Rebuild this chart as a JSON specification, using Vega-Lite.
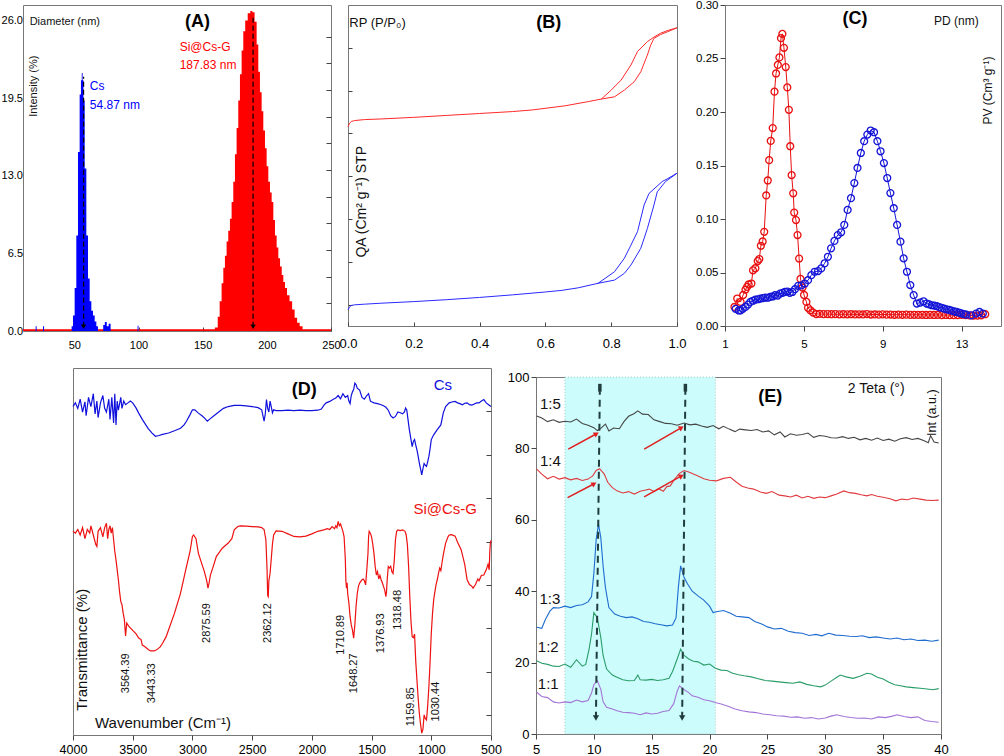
{
"$schema": "https://vega.github.io/schema/vega-lite/v6.json",
"padding": {"top": -2, "left": 0, "right": 0, "bottom": 0},
"background": "white",
"config": {
  "font": "Liberation Sans",
  "view": {"stroke": "#777777", "strokeWidth": 1},
  "axis": {"domain": false, "grid": false, "labelColor": "#000000", "tickColor": "#444444", "labelFont": "Liberation Sans", "labelFontSize": 12, "minExtent": 0, "labelFlush": false, "labelOverlap": false}
},
"datasets": {
"histA": [
{"d":10,"i":0.15,"s":"Si@Cs-G"},{"d":158,"i":0.15,"s":"Si@Cs-G"},{"d":161,"i":0.3,"s":"Si@Cs-G"},{"d":162.5,"i":1.2,"s":"Si@Cs-G"},{"d":164,"i":2.5,"s":"Si@Cs-G"},{"d":165.5,"i":4.0,"s":"Si@Cs-G"},{"d":166.7,"i":5.3,"s":"Si@Cs-G"},{"d":168,"i":6.3,"s":"Si@Cs-G"},{"d":169.3,"i":7.5,"s":"Si@Cs-G"},{"d":170.6,"i":8.4,"s":"Si@Cs-G"},{"d":171.9,"i":9.4,"s":"Si@Cs-G"},{"d":173.2,"i":10.8,"s":"Si@Cs-G"},{"d":174.5,"i":12.5,"s":"Si@Cs-G"},{"d":175.8,"i":14.8,"s":"Si@Cs-G"},{"d":177.1,"i":17.0,"s":"Si@Cs-G"},{"d":178.4,"i":19.3,"s":"Si@Cs-G"},{"d":179.7,"i":21.5,"s":"Si@Cs-G"},{"d":181,"i":23.5,"s":"Si@Cs-G"},{"d":182.3,"i":25.1,"s":"Si@Cs-G"},{"d":184,"i":26.0,"s":"Si@Cs-G"},{"d":186.2,"i":26.6,"s":"Si@Cs-G"},{"d":188,"i":26.8,"s":"Si@Cs-G"},{"d":189.5,"i":26.7,"s":"Si@Cs-G"},{"d":191.4,"i":25.9,"s":"Si@Cs-G"},{"d":192.7,"i":24.0,"s":"Si@Cs-G"},{"d":194,"i":21.7,"s":"Si@Cs-G"},{"d":195.3,"i":20.0,"s":"Si@Cs-G"},{"d":196.6,"i":18.4,"s":"Si@Cs-G"},{"d":197.9,"i":16.8,"s":"Si@Cs-G"},{"d":199.2,"i":15.3,"s":"Si@Cs-G"},{"d":200.5,"i":13.8,"s":"Si@Cs-G"},{"d":201.8,"i":12.5,"s":"Si@Cs-G"},{"d":203.1,"i":11.6,"s":"Si@Cs-G"},{"d":204.4,"i":10.8,"s":"Si@Cs-G"},{"d":205.7,"i":9.3,"s":"Si@Cs-G"},{"d":207,"i":8.0,"s":"Si@Cs-G"},{"d":208.3,"i":7.0,"s":"Si@Cs-G"},{"d":209.6,"i":6.1,"s":"Si@Cs-G"},{"d":211,"i":5.4,"s":"Si@Cs-G"},{"d":212.2,"i":4.7,"s":"Si@Cs-G"},{"d":213.5,"i":4.1,"s":"Si@Cs-G"},{"d":214.8,"i":3.6,"s":"Si@Cs-G"},{"d":216.7,"i":3.0,"s":"Si@Cs-G"},{"d":218.7,"i":2.5,"s":"Si@Cs-G"},{"d":220.7,"i":1.8,"s":"Si@Cs-G"},{"d":222.6,"i":1.1,"s":"Si@Cs-G"},{"d":224.6,"i":0.7,"s":"Si@Cs-G"},{"d":226.6,"i":0.4,"s":"Si@Cs-G"},{"d":229,"i":0.15,"s":"Si@Cs-G"},{"d":250,"i":0.15,"s":"Si@Cs-G"},
{"d":10,"i":0,"s":"Cs"},{"d":19.5,"i":0,"s":"Cs"},{"d":20.2,"i":0.4,"s":"Cs"},{"d":21,"i":0,"s":"Cs"},{"d":25.2,"i":0,"s":"Cs"},{"d":26,"i":0.4,"s":"Cs"},{"d":26.8,"i":0,"s":"Cs"},{"d":47.5,"i":0,"s":"Cs"},{"d":48.3,"i":0.4,"s":"Cs"},{"d":49.6,"i":1.3,"s":"Cs"},{"d":50.9,"i":3.6,"s":"Cs"},{"d":52.2,"i":8.0,"s":"Cs"},{"d":53.5,"i":15.0,"s":"Cs"},{"d":54.8,"i":19.8,"s":"Cs"},{"d":55.5,"i":21.0,"s":"Cs"},{"d":56.1,"i":21.6,"s":"Cs"},{"d":56.8,"i":21.0,"s":"Cs"},{"d":57.4,"i":19.3,"s":"Cs"},{"d":58.7,"i":13.6,"s":"Cs"},{"d":60,"i":8.0,"s":"Cs"},{"d":61.3,"i":4.4,"s":"Cs"},{"d":62.6,"i":2.5,"s":"Cs"},{"d":63.9,"i":1.7,"s":"Cs"},{"d":65.2,"i":1.3,"s":"Cs"},{"d":66.5,"i":0.8,"s":"Cs"},{"d":67.8,"i":0.4,"s":"Cs"},{"d":69,"i":0,"s":"Cs"},{"d":72,"i":0,"s":"Cs"},{"d":73,"i":0.5,"s":"Cs"},{"d":74.5,"i":0.75,"s":"Cs"},{"d":76,"i":0.4,"s":"Cs"},{"d":77.5,"i":0.6,"s":"Cs"},{"d":79,"i":0,"s":"Cs"},{"d":99,"i":0,"s":"Cs"},{"d":99.6,"i":0.45,"s":"Cs"},{"d":100.4,"i":0,"s":"Cs"},{"d":101,"i":0,"s":"Cs"}
],
"dashA": [{"x":57.2,"y1":0.35,"y2":21.3},{"x":189.3,"y1":0.35,"y2":26.3}],
"isoB": [
{"p":0,"q":62.1,"s":"Si@Cs-G","b":"a"},{"p":0.005,"q":63.2,"s":"Si@Cs-G","b":"a"},{"p":0.01,"q":63.7,"s":"Si@Cs-G","b":"a"},{"p":0.02,"q":64.0,"s":"Si@Cs-G","b":"a"},{"p":0.05,"q":64.3,"s":"Si@Cs-G","b":"a"},{"p":0.1,"q":64.5,"s":"Si@Cs-G","b":"a"},{"p":0.2,"q":65.0,"s":"Si@Cs-G","b":"a"},{"p":0.3,"q":65.6,"s":"Si@Cs-G","b":"a"},{"p":0.4,"q":66.2,"s":"Si@Cs-G","b":"a"},{"p":0.5,"q":66.8,"s":"Si@Cs-G","b":"a"},{"p":0.56,"q":67.3,"s":"Si@Cs-G","b":"a"},{"p":0.66,"q":68.6,"s":"Si@Cs-G","b":"a"},{"p":0.73,"q":69.9,"s":"Si@Cs-G","b":"a"},{"p":0.77,"q":70.7,"s":"Si@Cs-G","b":"a"},{"p":0.81,"q":71.4,"s":"Si@Cs-G","b":"a"},{"p":0.84,"q":73.5,"s":"Si@Cs-G","b":"a"},{"p":0.87,"q":76.1,"s":"Si@Cs-G","b":"a"},{"p":0.89,"q":79.2,"s":"Si@Cs-G","b":"a"},{"p":0.91,"q":84.4,"s":"Si@Cs-G","b":"a"},{"p":0.92,"q":87.5,"s":"Si@Cs-G","b":"a"},{"p":0.93,"q":89.6,"s":"Si@Cs-G","b":"a"},{"p":0.95,"q":90.8,"s":"Si@Cs-G","b":"a"},{"p":0.97,"q":91.6,"s":"Si@Cs-G","b":"a"},{"p":1.0,"q":92.9,"s":"Si@Cs-G","b":"a"},
{"p":0.77,"q":70.7,"s":"Si@Cs-G","b":"d"},{"p":0.8,"q":73.5,"s":"Si@Cs-G","b":"d"},{"p":0.83,"q":76.6,"s":"Si@Cs-G","b":"d"},{"p":0.86,"q":81.3,"s":"Si@Cs-G","b":"d"},{"p":0.88,"q":85.5,"s":"Si@Cs-G","b":"d"},{"p":0.91,"q":88.6,"s":"Si@Cs-G","b":"d"},{"p":0.93,"q":90.0,"s":"Si@Cs-G","b":"d"},{"p":0.95,"q":91.2,"s":"Si@Cs-G","b":"d"},{"p":0.97,"q":92.0,"s":"Si@Cs-G","b":"d"},{"p":1.0,"q":92.9,"s":"Si@Cs-G","b":"d"},
{"p":0,"q":5.0,"s":"Cs","b":"a"},{"p":0.005,"q":6.0,"s":"Cs","b":"a"},{"p":0.01,"q":6.4,"s":"Cs","b":"a"},{"p":0.02,"q":6.6,"s":"Cs","b":"a"},{"p":0.05,"q":6.8,"s":"Cs","b":"a"},{"p":0.1,"q":7.1,"s":"Cs","b":"a"},{"p":0.2,"q":7.6,"s":"Cs","b":"a"},{"p":0.3,"q":8.2,"s":"Cs","b":"a"},{"p":0.4,"q":8.9,"s":"Cs","b":"a"},{"p":0.5,"q":9.7,"s":"Cs","b":"a"},{"p":0.6,"q":10.6,"s":"Cs","b":"a"},{"p":0.65,"q":11.1,"s":"Cs","b":"a"},{"p":0.7,"q":11.9,"s":"Cs","b":"a"},{"p":0.76,"q":13.3,"s":"Cs","b":"a"},{"p":0.81,"q":14.3,"s":"Cs","b":"a"},{"p":0.84,"q":16.4,"s":"Cs","b":"a"},{"p":0.86,"q":19.0,"s":"Cs","b":"a"},{"p":0.89,"q":24.2,"s":"Cs","b":"a"},{"p":0.91,"q":30.4,"s":"Cs","b":"a"},{"p":0.93,"q":37.7,"s":"Cs","b":"a"},{"p":0.94,"q":41.8,"s":"Cs","b":"a"},{"p":0.965,"q":45.0,"s":"Cs","b":"a"},{"p":1.0,"q":47.6,"s":"Cs","b":"a"},
{"p":0.76,"q":13.3,"s":"Cs","b":"d"},{"p":0.81,"q":16.9,"s":"Cs","b":"d"},{"p":0.84,"q":21.1,"s":"Cs","b":"d"},{"p":0.86,"q":25.2,"s":"Cs","b":"d"},{"p":0.88,"q":29.4,"s":"Cs","b":"d"},{"p":0.9,"q":37.7,"s":"Cs","b":"d"},{"p":0.915,"q":41.3,"s":"Cs","b":"d"},{"p":0.955,"q":45.0,"s":"Cs","b":"d"},{"p":0.97,"q":45.8,"s":"Cs","b":"d"},{"p":1.0,"q":47.6,"s":"Cs","b":"d"}
],
"poreC": [
{"d":1.48,"v":0.0178,"s":"Si@Cs-G"},{"d":1.62,"v":0.0257,"s":"Si@Cs-G"},{"d":1.79,"v":0.0225,"s":"Si@Cs-G"},{"d":1.92,"v":0.029,"s":"Si@Cs-G"},{"d":2.04,"v":0.034,"s":"Si@Cs-G"},{"d":2.12,"v":0.0366,"s":"Si@Cs-G"},{"d":2.2,"v":0.0388,"s":"Si@Cs-G"},{"d":2.34,"v":0.0397,"s":"Si@Cs-G"},{"d":2.42,"v":0.052,"s":"Si@Cs-G"},{"d":2.54,"v":0.054,"s":"Si@Cs-G"},{"d":2.66,"v":0.0607,"s":"Si@Cs-G"},{"d":2.74,"v":0.0626,"s":"Si@Cs-G"},{"d":2.82,"v":0.075,"s":"Si@Cs-G"},{"d":2.91,"v":0.079,"s":"Si@Cs-G"},{"d":2.99,"v":0.088,"s":"Si@Cs-G"},{"d":3.09,"v":0.122,"s":"Si@Cs-G"},{"d":3.17,"v":0.136,"s":"Si@Cs-G"},{"d":3.24,"v":0.155,"s":"Si@Cs-G"},{"d":3.32,"v":0.173,"s":"Si@Cs-G"},{"d":3.42,"v":0.185,"s":"Si@Cs-G"},{"d":3.51,"v":0.219,"s":"Si@Cs-G"},{"d":3.59,"v":0.236,"s":"Si@Cs-G"},{"d":3.68,"v":0.244,"s":"Si@Cs-G"},{"d":3.76,"v":0.251,"s":"Si@Cs-G"},{"d":3.84,"v":0.269,"s":"Si@Cs-G"},{"d":3.91,"v":0.273,"s":"Si@Cs-G"},{"d":3.99,"v":0.26,"s":"Si@Cs-G"},{"d":4.08,"v":0.242,"s":"Si@Cs-G"},{"d":4.16,"v":0.223,"s":"Si@Cs-G"},{"d":4.24,"v":0.202,"s":"Si@Cs-G"},{"d":4.31,"v":0.168,"s":"Si@Cs-G"},{"d":4.38,"v":0.141,"s":"Si@Cs-G"},{"d":4.46,"v":0.124,"s":"Si@Cs-G"},{"d":4.51,"v":0.106,"s":"Si@Cs-G"},{"d":4.6,"v":0.099,"s":"Si@Cs-G"},{"d":4.68,"v":0.085,"s":"Si@Cs-G"},{"d":4.76,"v":0.063,"s":"Si@Cs-G"},{"d":4.83,"v":0.044,"s":"Si@Cs-G"},{"d":4.93,"v":0.036,"s":"Si@Cs-G"},{"d":5.01,"v":0.029,"s":"Si@Cs-G"},{"d":5.13,"v":0.0225,"s":"Si@Cs-G"},{"d":5.21,"v":0.017,"s":"Si@Cs-G"},{"d":5.33,"v":0.0147,"s":"Si@Cs-G"},{"d":5.47,"v":0.0125,"s":"Si@Cs-G"},{"d":5.63,"v":0.0112,"s":"Si@Cs-G"},{"d":5.8,"v":0.0113,"s":"Si@Cs-G"},{"d":6.0,"v":0.0111,"s":"Si@Cs-G"},{"d":6.2,"v":0.0112,"s":"Si@Cs-G"},{"d":6.4,"v":0.011,"s":"Si@Cs-G"},{"d":6.6,"v":0.0111,"s":"Si@Cs-G"},{"d":6.8,"v":0.0109,"s":"Si@Cs-G"},{"d":7.0,"v":0.011,"s":"Si@Cs-G"},{"d":7.2,"v":0.0109,"s":"Si@Cs-G"},{"d":7.4,"v":0.011,"s":"Si@Cs-G"},{"d":7.6,"v":0.0108,"s":"Si@Cs-G"},{"d":7.8,"v":0.0109,"s":"Si@Cs-G"},{"d":8.0,"v":0.0108,"s":"Si@Cs-G"},{"d":8.2,"v":0.0112,"s":"Si@Cs-G"},{"d":8.4,"v":0.0107,"s":"Si@Cs-G"},{"d":8.6,"v":0.0108,"s":"Si@Cs-G"},{"d":8.8,"v":0.0106,"s":"Si@Cs-G"},{"d":9.0,"v":0.0109,"s":"Si@Cs-G"},{"d":9.2,"v":0.0106,"s":"Si@Cs-G"},{"d":9.4,"v":0.0107,"s":"Si@Cs-G"},{"d":9.6,"v":0.0105,"s":"Si@Cs-G"},{"d":9.8,"v":0.0106,"s":"Si@Cs-G"},{"d":10.0,"v":0.0105,"s":"Si@Cs-G"},{"d":10.2,"v":0.0106,"s":"Si@Cs-G"},{"d":10.4,"v":0.0104,"s":"Si@Cs-G"},{"d":10.6,"v":0.0105,"s":"Si@Cs-G"},{"d":10.8,"v":0.0104,"s":"Si@Cs-G"},{"d":11.0,"v":0.0105,"s":"Si@Cs-G"},{"d":11.2,"v":0.0103,"s":"Si@Cs-G"},{"d":11.4,"v":0.0104,"s":"Si@Cs-G"},{"d":11.6,"v":0.0103,"s":"Si@Cs-G"},{"d":11.8,"v":0.0104,"s":"Si@Cs-G"},{"d":12.0,"v":0.0102,"s":"Si@Cs-G"},{"d":12.2,"v":0.0103,"s":"Si@Cs-G"},{"d":12.4,"v":0.0102,"s":"Si@Cs-G"},{"d":12.6,"v":0.0101,"s":"Si@Cs-G"},{"d":12.8,"v":0.0102,"s":"Si@Cs-G"},{"d":13.0,"v":0.0105,"s":"Si@Cs-G"},{"d":13.2,"v":0.0101,"s":"Si@Cs-G"},{"d":13.4,"v":0.01,"s":"Si@Cs-G"},{"d":13.6,"v":0.0098,"s":"Si@Cs-G"},{"d":13.8,"v":0.0097,"s":"Si@Cs-G"},{"d":14.0,"v":0.01,"s":"Si@Cs-G"},{"d":14.2,"v":0.011,"s":"Si@Cs-G"},
{"d":1.54,"v":0.016,"s":"Cs"},{"d":1.7,"v":0.0145,"s":"Cs"},{"d":1.79,"v":0.0147,"s":"Cs"},{"d":1.9,"v":0.016,"s":"Cs"},{"d":2.04,"v":0.0178,"s":"Cs"},{"d":2.17,"v":0.02,"s":"Cs"},{"d":2.29,"v":0.0225,"s":"Cs"},{"d":2.42,"v":0.0236,"s":"Cs"},{"d":2.54,"v":0.0247,"s":"Cs"},{"d":2.67,"v":0.025,"s":"Cs"},{"d":2.79,"v":0.0256,"s":"Cs"},{"d":2.92,"v":0.026,"s":"Cs"},{"d":3.04,"v":0.0266,"s":"Cs"},{"d":3.17,"v":0.0264,"s":"Cs"},{"d":3.29,"v":0.0272,"s":"Cs"},{"d":3.42,"v":0.0276,"s":"Cs"},{"d":3.54,"v":0.0288,"s":"Cs"},{"d":3.67,"v":0.0284,"s":"Cs"},{"d":3.79,"v":0.0303,"s":"Cs"},{"d":3.92,"v":0.031,"s":"Cs"},{"d":4.04,"v":0.0319,"s":"Cs"},{"d":4.17,"v":0.0322,"s":"Cs"},{"d":4.29,"v":0.031,"s":"Cs"},{"d":4.42,"v":0.0318,"s":"Cs"},{"d":4.55,"v":0.0344,"s":"Cs"},{"d":4.71,"v":0.0375,"s":"Cs"},{"d":4.88,"v":0.038,"s":"Cs"},{"d":5.05,"v":0.0397,"s":"Cs"},{"d":5.21,"v":0.0428,"s":"Cs"},{"d":5.38,"v":0.0475,"s":"Cs"},{"d":5.55,"v":0.0507,"s":"Cs"},{"d":5.72,"v":0.0513,"s":"Cs"},{"d":5.88,"v":0.0538,"s":"Cs"},{"d":6.05,"v":0.0585,"s":"Cs"},{"d":6.22,"v":0.0647,"s":"Cs"},{"d":6.38,"v":0.0726,"s":"Cs"},{"d":6.55,"v":0.0795,"s":"Cs"},{"d":6.72,"v":0.085,"s":"Cs"},{"d":6.89,"v":0.0876,"s":"Cs"},{"d":7.05,"v":0.0945,"s":"Cs"},{"d":7.22,"v":0.1085,"s":"Cs"},{"d":7.39,"v":0.1195,"s":"Cs"},{"d":7.56,"v":0.1336,"s":"Cs"},{"d":7.72,"v":0.1477,"s":"Cs"},{"d":7.89,"v":0.1617,"s":"Cs"},{"d":8.06,"v":0.1727,"s":"Cs"},{"d":8.22,"v":0.1789,"s":"Cs"},{"d":8.39,"v":0.1827,"s":"Cs"},{"d":8.56,"v":0.1811,"s":"Cs"},{"d":8.73,"v":0.1727,"s":"Cs"},{"d":8.89,"v":0.1633,"s":"Cs"},{"d":9.06,"v":0.1523,"s":"Cs"},{"d":9.23,"v":0.1383,"s":"Cs"},{"d":9.39,"v":0.1242,"s":"Cs"},{"d":9.56,"v":0.1101,"s":"Cs"},{"d":9.73,"v":0.0945,"s":"Cs"},{"d":9.9,"v":0.0788,"s":"Cs"},{"d":10.06,"v":0.0632,"s":"Cs"},{"d":10.23,"v":0.0507,"s":"Cs"},{"d":10.4,"v":0.0382,"s":"Cs"},{"d":10.57,"v":0.0288,"s":"Cs"},{"d":10.73,"v":0.021,"s":"Cs"},{"d":10.9,"v":0.0219,"s":"Cs"},{"d":11.07,"v":0.0231,"s":"Cs"},{"d":11.23,"v":0.021,"s":"Cs"},{"d":11.36,"v":0.0202,"s":"Cs"},{"d":11.49,"v":0.0194,"s":"Cs"},{"d":11.62,"v":0.019,"s":"Cs"},{"d":11.74,"v":0.0185,"s":"Cs"},{"d":11.87,"v":0.0176,"s":"Cs"},{"d":11.99,"v":0.0169,"s":"Cs"},{"d":12.12,"v":0.0162,"s":"Cs"},{"d":12.24,"v":0.0156,"s":"Cs"},{"d":12.37,"v":0.015,"s":"Cs"},{"d":12.49,"v":0.0144,"s":"Cs"},{"d":12.62,"v":0.0137,"s":"Cs"},{"d":12.74,"v":0.0131,"s":"Cs"},{"d":12.87,"v":0.0125,"s":"Cs"},{"d":12.99,"v":0.0119,"s":"Cs"},{"d":13.12,"v":0.0112,"s":"Cs"},{"d":13.24,"v":0.0106,"s":"Cs"},{"d":13.49,"v":0.01,"s":"Cs"},{"d":13.74,"v":0.0116,"s":"Cs"},{"d":13.91,"v":0.0131,"s":"Cs"},{"d":14.08,"v":0.0116,"s":"Cs"}
],
"ftirD": [
{"w":4000,"t":89.5,"s":"Cs"},{"w":3980,"t":90.5,"s":"Cs"},{"w":3960,"t":89.0,"s":"Cs"},{"w":3940,"t":91.5,"s":"Cs"},{"w":3920,"t":88.0,"s":"Cs"},{"w":3900,"t":90.8,"s":"Cs"},{"w":3890,"t":87.0,"s":"Cs"},{"w":3870,"t":92.0,"s":"Cs"},{"w":3850,"t":89.5,"s":"Cs"},{"w":3830,"t":93.0,"s":"Cs"},{"w":3815,"t":87.5,"s":"Cs"},{"w":3800,"t":91.0,"s":"Cs"},{"w":3790,"t":86.5,"s":"Cs"},{"w":3770,"t":90.5,"s":"Cs"},{"w":3750,"t":92.5,"s":"Cs"},{"w":3735,"t":89.0,"s":"Cs"},{"w":3720,"t":88.0,"s":"Cs"},{"w":3700,"t":91.5,"s":"Cs"},{"w":3690,"t":86.0,"s":"Cs"},{"w":3675,"t":92.0,"s":"Cs"},{"w":3660,"t":85.0,"s":"Cs"},{"w":3650,"t":93.0,"s":"Cs"},{"w":3640,"t":84.5,"s":"Cs"},{"w":3630,"t":91.0,"s":"Cs"},{"w":3620,"t":88.5,"s":"Cs"},{"w":3600,"t":92.0,"s":"Cs"},{"w":3590,"t":89.0,"s":"Cs"},{"w":3575,"t":91.0,"s":"Cs"},{"w":3560,"t":90.0,"s":"Cs"},{"w":3540,"t":90.5,"s":"Cs"},{"w":3520,"t":91.0,"s":"Cs"},{"w":3500,"t":90.5,"s":"Cs"},{"w":3470,"t":89.0,"s":"Cs"},{"w":3450,"t":87.7,"s":"Cs"},{"w":3420,"t":86.0,"s":"Cs"},{"w":3400,"t":85.0,"s":"Cs"},{"w":3370,"t":83.5,"s":"Cs"},{"w":3340,"t":82.3,"s":"Cs"},{"w":3310,"t":81.4,"s":"Cs"},{"w":3280,"t":81.6,"s":"Cs"},{"w":3250,"t":81.9,"s":"Cs"},{"w":3200,"t":82.3,"s":"Cs"},{"w":3150,"t":82.9,"s":"Cs"},{"w":3100,"t":83.6,"s":"Cs"},{"w":3070,"t":84.5,"s":"Cs"},{"w":3050,"t":85.5,"s":"Cs"},{"w":3020,"t":87.3,"s":"Cs"},{"w":3000,"t":88.6,"s":"Cs"},{"w":2980,"t":88.6,"s":"Cs"},{"w":2950,"t":87.7,"s":"Cs"},{"w":2920,"t":87.0,"s":"Cs"},{"w":2900,"t":86.4,"s":"Cs"},{"w":2875,"t":85.5,"s":"Cs"},{"w":2850,"t":86.2,"s":"Cs"},{"w":2820,"t":87.0,"s":"Cs"},{"w":2780,"t":88.0,"s":"Cs"},{"w":2740,"t":89.0,"s":"Cs"},{"w":2700,"t":89.5,"s":"Cs"},{"w":2650,"t":89.8,"s":"Cs"},{"w":2600,"t":89.8,"s":"Cs"},{"w":2550,"t":89.7,"s":"Cs"},{"w":2500,"t":89.5,"s":"Cs"},{"w":2450,"t":89.2,"s":"Cs"},{"w":2420,"t":88.6,"s":"Cs"},{"w":2400,"t":85.5,"s":"Cs"},{"w":2390,"t":87.5,"s":"Cs"},{"w":2380,"t":91.4,"s":"Cs"},{"w":2370,"t":89.0,"s":"Cs"},{"w":2360,"t":88.0,"s":"Cs"},{"w":2350,"t":91.0,"s":"Cs"},{"w":2340,"t":89.5,"s":"Cs"},{"w":2330,"t":87.8,"s":"Cs"},{"w":2320,"t":88.6,"s":"Cs"},{"w":2300,"t":88.4,"s":"Cs"},{"w":2250,"t":88.4,"s":"Cs"},{"w":2200,"t":88.5,"s":"Cs"},{"w":2150,"t":88.4,"s":"Cs"},{"w":2100,"t":88.5,"s":"Cs"},{"w":2050,"t":88.4,"s":"Cs"},{"w":2000,"t":88.4,"s":"Cs"},{"w":1950,"t":88.5,"s":"Cs"},{"w":1920,"t":88.8,"s":"Cs"},{"w":1900,"t":89.8,"s":"Cs"},{"w":1880,"t":90.5,"s":"Cs"},{"w":1850,"t":90.9,"s":"Cs"},{"w":1820,"t":91.5,"s":"Cs"},{"w":1800,"t":91.8,"s":"Cs"},{"w":1780,"t":92.5,"s":"Cs"},{"w":1760,"t":91.6,"s":"Cs"},{"w":1740,"t":93.0,"s":"Cs"},{"w":1720,"t":92.0,"s":"Cs"},{"w":1700,"t":92.5,"s":"Cs"},{"w":1690,"t":91.0,"s":"Cs"},{"w":1680,"t":90.3,"s":"Cs"},{"w":1670,"t":92.5,"s":"Cs"},{"w":1660,"t":93.5,"s":"Cs"},{"w":1650,"t":94.1,"s":"Cs"},{"w":1640,"t":95.9,"s":"Cs"},{"w":1630,"t":95.5,"s":"Cs"},{"w":1620,"t":94.5,"s":"Cs"},{"w":1600,"t":94.0,"s":"Cs"},{"w":1580,"t":92.0,"s":"Cs"},{"w":1560,"t":91.5,"s":"Cs"},{"w":1540,"t":92.5,"s":"Cs"},{"w":1525,"t":93.0,"s":"Cs"},{"w":1510,"t":91.0,"s":"Cs"},{"w":1500,"t":90.8,"s":"Cs"},{"w":1480,"t":90.5,"s":"Cs"},{"w":1450,"t":90.3,"s":"Cs"},{"w":1420,"t":90.0,"s":"Cs"},{"w":1400,"t":89.7,"s":"Cs"},{"w":1380,"t":89.3,"s":"Cs"},{"w":1360,"t":88.5,"s":"Cs"},{"w":1340,"t":87.0,"s":"Cs"},{"w":1320,"t":86.4,"s":"Cs"},{"w":1300,"t":86.8,"s":"Cs"},{"w":1280,"t":88.0,"s":"Cs"},{"w":1260,"t":87.8,"s":"Cs"},{"w":1240,"t":87.5,"s":"Cs"},{"w":1225,"t":88.0,"s":"Cs"},{"w":1215,"t":89.1,"s":"Cs"},{"w":1205,"t":88.5,"s":"Cs"},{"w":1195,"t":86.0,"s":"Cs"},{"w":1185,"t":83.5,"s":"Cs"},{"w":1170,"t":80.5,"s":"Cs"},{"w":1160,"t":78.6,"s":"Cs"},{"w":1150,"t":80.0,"s":"Cs"},{"w":1140,"t":80.5,"s":"Cs"},{"w":1130,"t":79.0,"s":"Cs"},{"w":1120,"t":77.7,"s":"Cs"},{"w":1110,"t":76.0,"s":"Cs"},{"w":1100,"t":74.1,"s":"Cs"},{"w":1090,"t":72.5,"s":"Cs"},{"w":1080,"t":70.9,"s":"Cs"},{"w":1070,"t":72.5,"s":"Cs"},{"w":1060,"t":74.0,"s":"Cs"},{"w":1050,"t":73.5,"s":"Cs"},{"w":1040,"t":73.2,"s":"Cs"},{"w":1030,"t":74.5,"s":"Cs"},{"w":1020,"t":75.9,"s":"Cs"},{"w":1010,"t":78.0,"s":"Cs"},{"w":1000,"t":80.5,"s":"Cs"},{"w":980,"t":81.8,"s":"Cs"},{"w":950,"t":83.2,"s":"Cs"},{"w":920,"t":84.5,"s":"Cs"},{"w":900,"t":87.7,"s":"Cs"},{"w":880,"t":89.5,"s":"Cs"},{"w":850,"t":90.5,"s":"Cs"},{"w":820,"t":90.8,"s":"Cs"},{"w":800,"t":90.9,"s":"Cs"},{"w":780,"t":90.5,"s":"Cs"},{"w":760,"t":90.3,"s":"Cs"},{"w":740,"t":90.0,"s":"Cs"},{"w":720,"t":90.4,"s":"Cs"},{"w":700,"t":90.5,"s":"Cs"},{"w":680,"t":90.0,"s":"Cs"},{"w":660,"t":89.9,"s":"Cs"},{"w":640,"t":90.2,"s":"Cs"},{"w":620,"t":90.5,"s":"Cs"},{"w":600,"t":90.5,"s":"Cs"},{"w":580,"t":91.0,"s":"Cs"},{"w":560,"t":91.4,"s":"Cs"},{"w":540,"t":90.5,"s":"Cs"},{"w":520,"t":90.0,"s":"Cs"},{"w":500,"t":89.5,"s":"Cs"},
{"w":4000,"t":55.5,"s":"Si@Cs-G"},{"w":3980,"t":55.0,"s":"Si@Cs-G"},{"w":3960,"t":56.0,"s":"Si@Cs-G"},{"w":3940,"t":54.5,"s":"Si@Cs-G"},{"w":3920,"t":56.5,"s":"Si@Cs-G"},{"w":3900,"t":53.5,"s":"Si@Cs-G"},{"w":3880,"t":56.0,"s":"Si@Cs-G"},{"w":3860,"t":55.0,"s":"Si@Cs-G"},{"w":3850,"t":57.0,"s":"Si@Cs-G"},{"w":3830,"t":54.5,"s":"Si@Cs-G"},{"w":3810,"t":52.0,"s":"Si@Cs-G"},{"w":3800,"t":51.4,"s":"Si@Cs-G"},{"w":3790,"t":55.5,"s":"Si@Cs-G"},{"w":3770,"t":56.5,"s":"Si@Cs-G"},{"w":3750,"t":54.0,"s":"Si@Cs-G"},{"w":3735,"t":56.5,"s":"Si@Cs-G"},{"w":3720,"t":57.7,"s":"Si@Cs-G"},{"w":3710,"t":53.5,"s":"Si@Cs-G"},{"w":3700,"t":56.0,"s":"Si@Cs-G"},{"w":3690,"t":57.0,"s":"Si@Cs-G"},{"w":3680,"t":55.0,"s":"Si@Cs-G"},{"w":3670,"t":56.5,"s":"Si@Cs-G"},{"w":3660,"t":53.2,"s":"Si@Cs-G"},{"w":3650,"t":50.0,"s":"Si@Cs-G"},{"w":3640,"t":47.7,"s":"Si@Cs-G"},{"w":3630,"t":45.0,"s":"Si@Cs-G"},{"w":3620,"t":42.3,"s":"Si@Cs-G"},{"w":3610,"t":39.0,"s":"Si@Cs-G"},{"w":3600,"t":36.4,"s":"Si@Cs-G"},{"w":3590,"t":35.5,"s":"Si@Cs-G"},{"w":3580,"t":33.2,"s":"Si@Cs-G"},{"w":3570,"t":31.5,"s":"Si@Cs-G"},{"w":3560,"t":27.0,"s":"Si@Cs-G"},{"w":3550,"t":30.5,"s":"Si@Cs-G"},{"w":3530,"t":29.5,"s":"Si@Cs-G"},{"w":3500,"t":28.5,"s":"Si@Cs-G"},{"w":3470,"t":27.5,"s":"Si@Cs-G"},{"w":3450,"t":26.4,"s":"Si@Cs-G"},{"w":3430,"t":26.0,"s":"Si@Cs-G"},{"w":3420,"t":24.5,"s":"Si@Cs-G"},{"w":3400,"t":24.1,"s":"Si@Cs-G"},{"w":3370,"t":23.3,"s":"Si@Cs-G"},{"w":3350,"t":22.9,"s":"Si@Cs-G"},{"w":3320,"t":22.9,"s":"Si@Cs-G"},{"w":3300,"t":23.2,"s":"Si@Cs-G"},{"w":3270,"t":24.0,"s":"Si@Cs-G"},{"w":3250,"t":25.0,"s":"Si@Cs-G"},{"w":3220,"t":26.8,"s":"Si@Cs-G"},{"w":3200,"t":28.6,"s":"Si@Cs-G"},{"w":3150,"t":33.2,"s":"Si@Cs-G"},{"w":3100,"t":38.6,"s":"Si@Cs-G"},{"w":3050,"t":45.9,"s":"Si@Cs-G"},{"w":3020,"t":50.0,"s":"Si@Cs-G"},{"w":3000,"t":54.1,"s":"Si@Cs-G"},{"w":2990,"t":54.5,"s":"Si@Cs-G"},{"w":2970,"t":53.5,"s":"Si@Cs-G"},{"w":2950,"t":49.5,"s":"Si@Cs-G"},{"w":2920,"t":46.5,"s":"Si@Cs-G"},{"w":2900,"t":44.5,"s":"Si@Cs-G"},{"w":2880,"t":42.0,"s":"Si@Cs-G"},{"w":2870,"t":40.0,"s":"Si@Cs-G"},{"w":2860,"t":41.5,"s":"Si@Cs-G"},{"w":2850,"t":43.5,"s":"Si@Cs-G"},{"w":2820,"t":46.5,"s":"Si@Cs-G"},{"w":2800,"t":48.6,"s":"Si@Cs-G"},{"w":2750,"t":50.9,"s":"Si@Cs-G"},{"w":2700,"t":52.3,"s":"Si@Cs-G"},{"w":2670,"t":53.5,"s":"Si@Cs-G"},{"w":2650,"t":55.9,"s":"Si@Cs-G"},{"w":2620,"t":56.8,"s":"Si@Cs-G"},{"w":2600,"t":57.0,"s":"Si@Cs-G"},{"w":2550,"t":56.9,"s":"Si@Cs-G"},{"w":2500,"t":56.8,"s":"Si@Cs-G"},{"w":2450,"t":56.7,"s":"Si@Cs-G"},{"w":2420,"t":56.5,"s":"Si@Cs-G"},{"w":2400,"t":56.0,"s":"Si@Cs-G"},{"w":2385,"t":53.2,"s":"Si@Cs-G"},{"w":2375,"t":45.0,"s":"Si@Cs-G"},{"w":2370,"t":38.0,"s":"Si@Cs-G"},{"w":2365,"t":37.7,"s":"Si@Cs-G"},{"w":2360,"t":42.0,"s":"Si@Cs-G"},{"w":2350,"t":44.0,"s":"Si@Cs-G"},{"w":2340,"t":48.0,"s":"Si@Cs-G"},{"w":2330,"t":52.0,"s":"Si@Cs-G"},{"w":2320,"t":54.5,"s":"Si@Cs-G"},{"w":2300,"t":55.6,"s":"Si@Cs-G"},{"w":2250,"t":55.5,"s":"Si@Cs-G"},{"w":2200,"t":54.8,"s":"Si@Cs-G"},{"w":2150,"t":54.1,"s":"Si@Cs-G"},{"w":2100,"t":54.0,"s":"Si@Cs-G"},{"w":2050,"t":54.2,"s":"Si@Cs-G"},{"w":2000,"t":54.8,"s":"Si@Cs-G"},{"w":1950,"t":55.5,"s":"Si@Cs-G"},{"w":1900,"t":55.9,"s":"Si@Cs-G"},{"w":1870,"t":56.2,"s":"Si@Cs-G"},{"w":1850,"t":56.0,"s":"Si@Cs-G"},{"w":1830,"t":56.8,"s":"Si@Cs-G"},{"w":1810,"t":56.2,"s":"Si@Cs-G"},{"w":1800,"t":57.0,"s":"Si@Cs-G"},{"w":1790,"t":56.5,"s":"Si@Cs-G"},{"w":1780,"t":58.2,"s":"Si@Cs-G"},{"w":1770,"t":57.0,"s":"Si@Cs-G"},{"w":1760,"t":57.5,"s":"Si@Cs-G"},{"w":1750,"t":56.5,"s":"Si@Cs-G"},{"w":1740,"t":55.5,"s":"Si@Cs-G"},{"w":1730,"t":54.0,"s":"Si@Cs-G"},{"w":1720,"t":48.0,"s":"Si@Cs-G"},{"w":1715,"t":42.0,"s":"Si@Cs-G"},{"w":1710,"t":40.0,"s":"Si@Cs-G"},{"w":1705,"t":41.5,"s":"Si@Cs-G"},{"w":1700,"t":38.5,"s":"Si@Cs-G"},{"w":1690,"t":36.0,"s":"Si@Cs-G"},{"w":1680,"t":32.3,"s":"Si@Cs-G"},{"w":1670,"t":30.0,"s":"Si@Cs-G"},{"w":1660,"t":28.6,"s":"Si@Cs-G"},{"w":1650,"t":26.4,"s":"Si@Cs-G"},{"w":1640,"t":30.0,"s":"Si@Cs-G"},{"w":1630,"t":35.0,"s":"Si@Cs-G"},{"w":1620,"t":38.5,"s":"Si@Cs-G"},{"w":1610,"t":40.5,"s":"Si@Cs-G"},{"w":1600,"t":41.4,"s":"Si@Cs-G"},{"w":1580,"t":42.3,"s":"Si@Cs-G"},{"w":1570,"t":42.5,"s":"Si@Cs-G"},{"w":1560,"t":42.0,"s":"Si@Cs-G"},{"w":1550,"t":40.9,"s":"Si@Cs-G"},{"w":1540,"t":45.0,"s":"Si@Cs-G"},{"w":1530,"t":49.5,"s":"Si@Cs-G"},{"w":1525,"t":54.0,"s":"Si@Cs-G"},{"w":1520,"t":55.5,"s":"Si@Cs-G"},{"w":1510,"t":55.0,"s":"Si@Cs-G"},{"w":1500,"t":54.0,"s":"Si@Cs-G"},{"w":1490,"t":52.0,"s":"Si@Cs-G"},{"w":1480,"t":49.5,"s":"Si@Cs-G"},{"w":1470,"t":46.0,"s":"Si@Cs-G"},{"w":1460,"t":43.6,"s":"Si@Cs-G"},{"w":1450,"t":44.5,"s":"Si@Cs-G"},{"w":1440,"t":42.5,"s":"Si@Cs-G"},{"w":1430,"t":43.5,"s":"Si@Cs-G"},{"w":1420,"t":42.3,"s":"Si@Cs-G"},{"w":1410,"t":41.5,"s":"Si@Cs-G"},{"w":1400,"t":40.5,"s":"Si@Cs-G"},{"w":1390,"t":39.5,"s":"Si@Cs-G"},{"w":1380,"t":37.7,"s":"Si@Cs-G"},{"w":1375,"t":39.0,"s":"Si@Cs-G"},{"w":1370,"t":42.0,"s":"Si@Cs-G"},{"w":1360,"t":45.9,"s":"Si@Cs-G"},{"w":1350,"t":45.5,"s":"Si@Cs-G"},{"w":1340,"t":46.0,"s":"Si@Cs-G"},{"w":1330,"t":44.5,"s":"Si@Cs-G"},{"w":1320,"t":44.0,"s":"Si@Cs-G"},{"w":1310,"t":47.5,"s":"Si@Cs-G"},{"w":1300,"t":53.2,"s":"Si@Cs-G"},{"w":1290,"t":55.5,"s":"Si@Cs-G"},{"w":1280,"t":55.9,"s":"Si@Cs-G"},{"w":1260,"t":55.7,"s":"Si@Cs-G"},{"w":1240,"t":55.9,"s":"Si@Cs-G"},{"w":1220,"t":55.5,"s":"Si@Cs-G"},{"w":1210,"t":54.5,"s":"Si@Cs-G"},{"w":1200,"t":51.8,"s":"Si@Cs-G"},{"w":1190,"t":46.0,"s":"Si@Cs-G"},{"w":1180,"t":37.7,"s":"Si@Cs-G"},{"w":1170,"t":31.0,"s":"Si@Cs-G"},{"w":1160,"t":26.8,"s":"Si@Cs-G"},{"w":1150,"t":26.5,"s":"Si@Cs-G"},{"w":1140,"t":27.5,"s":"Si@Cs-G"},{"w":1130,"t":20.0,"s":"Si@Cs-G"},{"w":1120,"t":15.0,"s":"Si@Cs-G"},{"w":1110,"t":10.0,"s":"Si@Cs-G"},{"w":1100,"t":5.9,"s":"Si@Cs-G"},{"w":1090,"t":3.0,"s":"Si@Cs-G"},{"w":1080,"t":0.5,"s":"Si@Cs-G"},{"w":1070,"t":1.5,"s":"Si@Cs-G"},{"w":1060,"t":5.5,"s":"Si@Cs-G"},{"w":1050,"t":4.5,"s":"Si@Cs-G"},{"w":1040,"t":4.1,"s":"Si@Cs-G"},{"w":1030,"t":8.0,"s":"Si@Cs-G"},{"w":1020,"t":13.2,"s":"Si@Cs-G"},{"w":1010,"t":20.0,"s":"Si@Cs-G"},{"w":1000,"t":27.7,"s":"Si@Cs-G"},{"w":990,"t":33.0,"s":"Si@Cs-G"},{"w":980,"t":36.8,"s":"Si@Cs-G"},{"w":970,"t":39.0,"s":"Si@Cs-G"},{"w":960,"t":41.0,"s":"Si@Cs-G"},{"w":950,"t":42.3,"s":"Si@Cs-G"},{"w":940,"t":44.0,"s":"Si@Cs-G"},{"w":930,"t":45.5,"s":"Si@Cs-G"},{"w":920,"t":44.8,"s":"Si@Cs-G"},{"w":910,"t":47.0,"s":"Si@Cs-G"},{"w":900,"t":49.0,"s":"Si@Cs-G"},{"w":880,"t":52.3,"s":"Si@Cs-G"},{"w":860,"t":54.0,"s":"Si@Cs-G"},{"w":850,"t":54.5,"s":"Si@Cs-G"},{"w":830,"t":54.6,"s":"Si@Cs-G"},{"w":800,"t":54.2,"s":"Si@Cs-G"},{"w":780,"t":52.5,"s":"Si@Cs-G"},{"w":750,"t":50.5,"s":"Si@Cs-G"},{"w":720,"t":46.5,"s":"Si@Cs-G"},{"w":700,"t":42.3,"s":"Si@Cs-G"},{"w":680,"t":41.0,"s":"Si@Cs-G"},{"w":660,"t":40.5,"s":"Si@Cs-G"},{"w":650,"t":40.0,"s":"Si@Cs-G"},{"w":630,"t":41.0,"s":"Si@Cs-G"},{"w":610,"t":42.5,"s":"Si@Cs-G"},{"w":600,"t":42.0,"s":"Si@Cs-G"},{"w":580,"t":43.5,"s":"Si@Cs-G"},{"w":560,"t":43.6,"s":"Si@Cs-G"},{"w":540,"t":45.0,"s":"Si@Cs-G"},{"w":525,"t":46.5,"s":"Si@Cs-G"},{"w":515,"t":45.0,"s":"Si@Cs-G"},{"w":510,"t":50.0,"s":"Si@Cs-G"},{"w":505,"t":52.3,"s":"Si@Cs-G"},{"w":500,"t":53.0,"s":"Si@Cs-G"}
],
"peaksD": [{"t":"3564.39","x":3559,"y":16.8},{"t":"3443.33","x":3335,"y":14.1},{"t":"2875.59","x":2874,"y":30.5},{"t":"2362.12","x":2366,"y":30.5},{"t":"1710.89","x":1757,"y":27.3},{"t":"1648.27","x":1645,"y":16.8},{"t":"1376.93","x":1422,"y":27.7},{"t":"1318.48","x":1282,"y":34.1},{"t":"1159.85","x":1171,"y":7.7},{"t":"1030.44","x":961,"y":9.1}],
"xrdE": [
{"a":5.06,"i":89.1,"r":"1:5"},{"a":5.5,"i":88.5,"r":"1:5"},{"a":6.0,"i":87.5,"r":"1:5"},{"a":6.5,"i":88.0,"r":"1:5"},{"a":7.0,"i":87.3,"r":"1:5"},{"a":7.5,"i":87.6,"r":"1:5"},{"a":8.0,"i":87.4,"r":"1:5"},{"a":8.5,"i":88.2,"r":"1:5"},{"a":9.0,"i":87.0,"r":"1:5"},{"a":9.5,"i":86.5,"r":"1:5"},{"a":10.0,"i":85.8,"r":"1:5"},{"a":10.3,"i":85.0,"r":"1:5"},{"a":10.6,"i":85.6,"r":"1:5"},{"a":11.0,"i":86.8,"r":"1:5"},{"a":11.3,"i":84.9,"r":"1:5"},{"a":11.7,"i":85.7,"r":"1:5"},{"a":12.2,"i":85.5,"r":"1:5"},{"a":12.6,"i":87.5,"r":"1:5"},{"a":13.0,"i":89.0,"r":"1:5"},{"a":13.5,"i":89.8,"r":"1:5"},{"a":13.8,"i":90.5,"r":"1:5"},{"a":14.2,"i":89.6,"r":"1:5"},{"a":14.7,"i":89.5,"r":"1:5"},{"a":15.2,"i":88.0,"r":"1:5"},{"a":15.7,"i":87.5,"r":"1:5"},{"a":16.2,"i":87.0,"r":"1:5"},{"a":16.7,"i":86.9,"r":"1:5"},{"a":17.2,"i":86.5,"r":"1:5"},{"a":17.8,"i":87.1,"r":"1:5"},{"a":18.3,"i":86.6,"r":"1:5"},{"a":18.8,"i":86.8,"r":"1:5"},{"a":19.3,"i":86.3,"r":"1:5"},{"a":19.8,"i":85.9,"r":"1:5"},{"a":20.3,"i":86.4,"r":"1:5"},{"a":20.8,"i":85.5,"r":"1:5"},{"a":21.2,"i":86.2,"r":"1:5"},{"a":21.7,"i":85.4,"r":"1:5"},{"a":22.2,"i":84.7,"r":"1:5"},{"a":22.6,"i":85.4,"r":"1:5"},{"a":23.1,"i":85.2,"r":"1:5"},{"a":23.6,"i":85.0,"r":"1:5"},{"a":24.1,"i":85.3,"r":"1:5"},{"a":24.6,"i":84.6,"r":"1:5"},{"a":25.1,"i":84.9,"r":"1:5"},{"a":25.6,"i":83.8,"r":"1:5"},{"a":26.1,"i":84.6,"r":"1:5"},{"a":26.5,"i":83.2,"r":"1:5"},{"a":27.0,"i":84.1,"r":"1:5"},{"a":27.5,"i":83.7,"r":"1:5"},{"a":28.0,"i":83.9,"r":"1:5"},{"a":28.5,"i":84.3,"r":"1:5"},{"a":29.0,"i":83.1,"r":"1:5"},{"a":29.5,"i":83.6,"r":"1:5"},{"a":30.0,"i":83.4,"r":"1:5"},{"a":30.5,"i":83.0,"r":"1:5"},{"a":31.0,"i":82.9,"r":"1:5"},{"a":31.5,"i":83.3,"r":"1:5"},{"a":32.0,"i":82.8,"r":"1:5"},{"a":32.5,"i":83.1,"r":"1:5"},{"a":33.0,"i":82.4,"r":"1:5"},{"a":33.5,"i":82.8,"r":"1:5"},{"a":34.0,"i":82.3,"r":"1:5"},{"a":34.5,"i":82.9,"r":"1:5"},{"a":35.0,"i":82.2,"r":"1:5"},{"a":35.5,"i":82.6,"r":"1:5"},{"a":36.0,"i":82.0,"r":"1:5"},{"a":36.5,"i":82.7,"r":"1:5"},{"a":37.0,"i":83.0,"r":"1:5"},{"a":37.5,"i":82.5,"r":"1:5"},{"a":38.0,"i":82.8,"r":"1:5"},{"a":38.5,"i":82.2,"r":"1:5"},{"a":38.9,"i":81.6,"r":"1:5"},{"a":39.1,"i":83.6,"r":"1:5"},{"a":39.4,"i":81.8,"r":"1:5"},{"a":39.8,"i":81.5,"r":"1:5"},
{"a":5.06,"i":74.2,"r":"1:4"},{"a":5.5,"i":72.8,"r":"1:4"},{"a":6.0,"i":71.5,"r":"1:4"},{"a":6.5,"i":72.2,"r":"1:4"},{"a":7.0,"i":71.4,"r":"1:4"},{"a":7.5,"i":71.8,"r":"1:4"},{"a":8.0,"i":71.2,"r":"1:4"},{"a":8.5,"i":71.6,"r":"1:4"},{"a":9.0,"i":71.0,"r":"1:4"},{"a":9.5,"i":71.4,"r":"1:4"},{"a":9.9,"i":72.3,"r":"1:4"},{"a":10.2,"i":73.8,"r":"1:4"},{"a":10.5,"i":74.3,"r":"1:4"},{"a":10.9,"i":72.8,"r":"1:4"},{"a":11.2,"i":70.5,"r":"1:4"},{"a":11.6,"i":69.0,"r":"1:4"},{"a":12.0,"i":68.1,"r":"1:4"},{"a":12.5,"i":67.5,"r":"1:4"},{"a":13.0,"i":67.9,"r":"1:4"},{"a":13.5,"i":67.2,"r":"1:4"},{"a":14.0,"i":68.0,"r":"1:4"},{"a":14.4,"i":68.3,"r":"1:4"},{"a":14.8,"i":68.6,"r":"1:4"},{"a":15.2,"i":67.9,"r":"1:4"},{"a":15.6,"i":68.7,"r":"1:4"},{"a":16.0,"i":68.0,"r":"1:4"},{"a":16.3,"i":69.3,"r":"1:4"},{"a":16.6,"i":69.5,"r":"1:4"},{"a":17.0,"i":71.5,"r":"1:4"},{"a":17.4,"i":73.0,"r":"1:4"},{"a":17.8,"i":73.8,"r":"1:4"},{"a":18.2,"i":73.4,"r":"1:4"},{"a":18.6,"i":72.8,"r":"1:4"},{"a":19.0,"i":72.3,"r":"1:4"},{"a":19.5,"i":71.5,"r":"1:4"},{"a":20.0,"i":71.1,"r":"1:4"},{"a":20.6,"i":70.9,"r":"1:4"},{"a":21.2,"i":71.6,"r":"1:4"},{"a":21.8,"i":71.9,"r":"1:4"},{"a":22.3,"i":70.6,"r":"1:4"},{"a":22.8,"i":69.4,"r":"1:4"},{"a":23.3,"i":68.9,"r":"1:4"},{"a":23.8,"i":68.6,"r":"1:4"},{"a":24.4,"i":67.8,"r":"1:4"},{"a":24.9,"i":67.4,"r":"1:4"},{"a":25.4,"i":67.9,"r":"1:4"},{"a":26.0,"i":66.9,"r":"1:4"},{"a":26.5,"i":66.7,"r":"1:4"},{"a":27.0,"i":66.4,"r":"1:4"},{"a":27.5,"i":66.9,"r":"1:4"},{"a":28.0,"i":66.1,"r":"1:4"},{"a":28.5,"i":66.6,"r":"1:4"},{"a":29.0,"i":66.0,"r":"1:4"},{"a":29.5,"i":66.4,"r":"1:4"},{"a":30.0,"i":66.2,"r":"1:4"},{"a":30.5,"i":66.7,"r":"1:4"},{"a":31.0,"i":67.2,"r":"1:4"},{"a":31.6,"i":68.1,"r":"1:4"},{"a":32.1,"i":67.6,"r":"1:4"},{"a":32.6,"i":67.4,"r":"1:4"},{"a":33.1,"i":67.0,"r":"1:4"},{"a":33.6,"i":66.7,"r":"1:4"},{"a":34.0,"i":67.1,"r":"1:4"},{"a":34.5,"i":66.6,"r":"1:4"},{"a":35.0,"i":66.3,"r":"1:4"},{"a":35.6,"i":65.9,"r":"1:4"},{"a":36.1,"i":65.3,"r":"1:4"},{"a":36.6,"i":65.8,"r":"1:4"},{"a":37.1,"i":65.6,"r":"1:4"},{"a":37.6,"i":66.1,"r":"1:4"},{"a":38.2,"i":65.8,"r":"1:4"},{"a":38.7,"i":65.5,"r":"1:4"},{"a":39.2,"i":65.4,"r":"1:4"},{"a":39.8,"i":65.5,"r":"1:4"},
{"a":5.06,"i":29.9,"r":"1:3"},{"a":5.5,"i":29.6,"r":"1:3"},{"a":5.8,"i":32.0,"r":"1:3"},{"a":6.2,"i":34.4,"r":"1:3"},{"a":6.5,"i":35.4,"r":"1:3"},{"a":7.0,"i":35.3,"r":"1:3"},{"a":7.5,"i":35.8,"r":"1:3"},{"a":8.0,"i":35.4,"r":"1:3"},{"a":8.5,"i":36.0,"r":"1:3"},{"a":9.0,"i":36.2,"r":"1:3"},{"a":9.5,"i":37.0,"r":"1:3"},{"a":9.8,"i":38.5,"r":"1:3"},{"a":10.0,"i":45.0,"r":"1:3"},{"a":10.2,"i":54.5,"r":"1:3"},{"a":10.4,"i":58.8,"r":"1:3"},{"a":10.6,"i":55.0,"r":"1:3"},{"a":10.8,"i":47.0,"r":"1:3"},{"a":11.0,"i":41.0,"r":"1:3"},{"a":11.3,"i":35.4,"r":"1:3"},{"a":11.8,"i":33.6,"r":"1:3"},{"a":12.3,"i":33.0,"r":"1:3"},{"a":12.8,"i":32.6,"r":"1:3"},{"a":13.3,"i":32.8,"r":"1:3"},{"a":13.8,"i":32.3,"r":"1:3"},{"a":14.3,"i":31.5,"r":"1:3"},{"a":14.8,"i":31.3,"r":"1:3"},{"a":15.3,"i":30.9,"r":"1:3"},{"a":15.8,"i":30.6,"r":"1:3"},{"a":16.3,"i":30.3,"r":"1:3"},{"a":16.8,"i":30.5,"r":"1:3"},{"a":17.1,"i":32.5,"r":"1:3"},{"a":17.3,"i":41.0,"r":"1:3"},{"a":17.5,"i":47.1,"r":"1:3"},{"a":17.8,"i":43.8,"r":"1:3"},{"a":18.1,"i":42.0,"r":"1:3"},{"a":18.5,"i":40.0,"r":"1:3"},{"a":19.0,"i":38.7,"r":"1:3"},{"a":19.5,"i":37.5,"r":"1:3"},{"a":20.0,"i":35.8,"r":"1:3"},{"a":20.3,"i":34.0,"r":"1:3"},{"a":20.7,"i":34.3,"r":"1:3"},{"a":21.2,"i":34.6,"r":"1:3"},{"a":21.8,"i":33.8,"r":"1:3"},{"a":22.3,"i":33.0,"r":"1:3"},{"a":22.8,"i":32.8,"r":"1:3"},{"a":23.4,"i":32.6,"r":"1:3"},{"a":23.9,"i":31.5,"r":"1:3"},{"a":24.5,"i":30.8,"r":"1:3"},{"a":25.0,"i":30.0,"r":"1:3"},{"a":25.6,"i":29.4,"r":"1:3"},{"a":26.2,"i":29.6,"r":"1:3"},{"a":26.8,"i":28.8,"r":"1:3"},{"a":27.4,"i":28.4,"r":"1:3"},{"a":28.0,"i":28.2,"r":"1:3"},{"a":28.6,"i":27.6,"r":"1:3"},{"a":29.2,"i":27.9,"r":"1:3"},{"a":29.7,"i":27.5,"r":"1:3"},{"a":30.3,"i":28.2,"r":"1:3"},{"a":30.9,"i":27.7,"r":"1:3"},{"a":31.5,"i":27.6,"r":"1:3"},{"a":32.1,"i":27.4,"r":"1:3"},{"a":32.7,"i":27.3,"r":"1:3"},{"a":33.2,"i":27.5,"r":"1:3"},{"a":33.8,"i":27.0,"r":"1:3"},{"a":34.4,"i":27.2,"r":"1:3"},{"a":35.0,"i":26.9,"r":"1:3"},{"a":35.6,"i":26.6,"r":"1:3"},{"a":36.2,"i":26.9,"r":"1:3"},{"a":36.8,"i":26.4,"r":"1:3"},{"a":37.4,"i":26.6,"r":"1:3"},{"a":38.0,"i":26.2,"r":"1:3"},{"a":38.6,"i":26.3,"r":"1:3"},{"a":39.2,"i":26.0,"r":"1:3"},{"a":39.8,"i":26.3,"r":"1:3"},
{"a":5.06,"i":20.5,"r":"1:2"},{"a":5.5,"i":19.8,"r":"1:2"},{"a":6.0,"i":19.5,"r":"1:2"},{"a":6.5,"i":19.0,"r":"1:2"},{"a":7.0,"i":18.9,"r":"1:2"},{"a":7.5,"i":19.6,"r":"1:2"},{"a":8.0,"i":18.7,"r":"1:2"},{"a":8.5,"i":20.8,"r":"1:2"},{"a":9.0,"i":19.0,"r":"1:2"},{"a":9.3,"i":19.5,"r":"1:2"},{"a":9.6,"i":24.0,"r":"1:2"},{"a":9.8,"i":28.0,"r":"1:2"},{"a":10.0,"i":34.0,"r":"1:2"},{"a":10.3,"i":32.6,"r":"1:2"},{"a":10.6,"i":27.0,"r":"1:2"},{"a":10.8,"i":22.0,"r":"1:2"},{"a":11.1,"i":18.2,"r":"1:2"},{"a":11.6,"i":16.5,"r":"1:2"},{"a":12.0,"i":15.9,"r":"1:2"},{"a":12.5,"i":15.2,"r":"1:2"},{"a":13.0,"i":14.9,"r":"1:2"},{"a":13.5,"i":15.0,"r":"1:2"},{"a":13.8,"i":16.5,"r":"1:2"},{"a":14.0,"i":15.2,"r":"1:2"},{"a":14.5,"i":15.1,"r":"1:2"},{"a":15.0,"i":15.3,"r":"1:2"},{"a":15.5,"i":15.0,"r":"1:2"},{"a":16.0,"i":15.2,"r":"1:2"},{"a":16.5,"i":15.6,"r":"1:2"},{"a":16.8,"i":17.5,"r":"1:2"},{"a":17.2,"i":21.0,"r":"1:2"},{"a":17.5,"i":23.8,"r":"1:2"},{"a":17.8,"i":22.0,"r":"1:2"},{"a":18.2,"i":21.0,"r":"1:2"},{"a":18.6,"i":20.4,"r":"1:2"},{"a":19.0,"i":20.2,"r":"1:2"},{"a":19.5,"i":19.3,"r":"1:2"},{"a":20.0,"i":19.6,"r":"1:2"},{"a":20.5,"i":18.4,"r":"1:2"},{"a":21.0,"i":17.9,"r":"1:2"},{"a":21.5,"i":17.8,"r":"1:2"},{"a":22.0,"i":17.0,"r":"1:2"},{"a":22.5,"i":16.6,"r":"1:2"},{"a":23.0,"i":16.3,"r":"1:2"},{"a":23.6,"i":16.0,"r":"1:2"},{"a":24.2,"i":15.5,"r":"1:2"},{"a":24.8,"i":15.0,"r":"1:2"},{"a":25.4,"i":14.8,"r":"1:2"},{"a":26.0,"i":14.6,"r":"1:2"},{"a":26.6,"i":14.4,"r":"1:2"},{"a":27.2,"i":14.2,"r":"1:2"},{"a":27.8,"i":14.6,"r":"1:2"},{"a":28.4,"i":13.9,"r":"1:2"},{"a":29.0,"i":13.5,"r":"1:2"},{"a":29.6,"i":13.2,"r":"1:2"},{"a":30.0,"i":13.7,"r":"1:2"},{"a":30.5,"i":14.8,"r":"1:2"},{"a":31.0,"i":15.9,"r":"1:2"},{"a":31.3,"i":16.5,"r":"1:2"},{"a":31.8,"i":16.0,"r":"1:2"},{"a":32.4,"i":15.6,"r":"1:2"},{"a":33.0,"i":16.2,"r":"1:2"},{"a":33.6,"i":17.0,"r":"1:2"},{"a":34.0,"i":16.8,"r":"1:2"},{"a":34.5,"i":15.9,"r":"1:2"},{"a":35.0,"i":15.4,"r":"1:2"},{"a":35.5,"i":14.5,"r":"1:2"},{"a":36.0,"i":13.8,"r":"1:2"},{"a":36.5,"i":13.5,"r":"1:2"},{"a":37.0,"i":13.2,"r":"1:2"},{"a":37.6,"i":13.0,"r":"1:2"},{"a":38.2,"i":12.8,"r":"1:2"},{"a":38.8,"i":12.6,"r":"1:2"},{"a":39.3,"i":12.4,"r":"1:2"},{"a":39.8,"i":12.7,"r":"1:2"},
{"a":5.06,"i":11.7,"r":"1:1"},{"a":5.5,"i":10.5,"r":"1:1"},{"a":6.0,"i":10.2,"r":"1:1"},{"a":6.5,"i":9.0,"r":"1:1"},{"a":7.0,"i":8.7,"r":"1:1"},{"a":7.5,"i":9.0,"r":"1:1"},{"a":8.0,"i":8.8,"r":"1:1"},{"a":8.5,"i":9.5,"r":"1:1"},{"a":9.0,"i":9.0,"r":"1:1"},{"a":9.5,"i":9.4,"r":"1:1"},{"a":9.8,"i":11.5,"r":"1:1"},{"a":10.0,"i":13.8,"r":"1:1"},{"a":10.3,"i":14.9,"r":"1:1"},{"a":10.6,"i":12.5,"r":"1:1"},{"a":10.8,"i":9.0,"r":"1:1"},{"a":11.1,"i":7.5,"r":"1:1"},{"a":11.6,"i":7.0,"r":"1:1"},{"a":12.0,"i":6.5,"r":"1:1"},{"a":12.5,"i":6.1,"r":"1:1"},{"a":13.0,"i":6.0,"r":"1:1"},{"a":13.5,"i":5.8,"r":"1:1"},{"a":14.0,"i":5.4,"r":"1:1"},{"a":14.5,"i":5.9,"r":"1:1"},{"a":15.0,"i":5.6,"r":"1:1"},{"a":15.5,"i":5.8,"r":"1:1"},{"a":16.0,"i":6.3,"r":"1:1"},{"a":16.5,"i":6.6,"r":"1:1"},{"a":16.9,"i":8.5,"r":"1:1"},{"a":17.2,"i":12.0,"r":"1:1"},{"a":17.4,"i":13.5,"r":"1:1"},{"a":17.8,"i":12.4,"r":"1:1"},{"a":18.2,"i":11.6,"r":"1:1"},{"a":18.5,"i":10.7,"r":"1:1"},{"a":19.0,"i":10.3,"r":"1:1"},{"a":19.5,"i":9.6,"r":"1:1"},{"a":20.0,"i":9.3,"r":"1:1"},{"a":20.5,"i":8.8,"r":"1:1"},{"a":21.0,"i":8.4,"r":"1:1"},{"a":21.6,"i":7.8,"r":"1:1"},{"a":22.2,"i":7.0,"r":"1:1"},{"a":22.8,"i":6.5,"r":"1:1"},{"a":23.4,"i":6.2,"r":"1:1"},{"a":24.0,"i":6.0,"r":"1:1"},{"a":24.6,"i":5.6,"r":"1:1"},{"a":25.2,"i":5.4,"r":"1:1"},{"a":25.8,"i":5.1,"r":"1:1"},{"a":26.4,"i":5.0,"r":"1:1"},{"a":27.0,"i":4.7,"r":"1:1"},{"a":27.6,"i":4.8,"r":"1:1"},{"a":28.2,"i":4.4,"r":"1:1"},{"a":28.8,"i":4.6,"r":"1:1"},{"a":29.4,"i":4.2,"r":"1:1"},{"a":30.0,"i":4.5,"r":"1:1"},{"a":30.5,"i":5.0,"r":"1:1"},{"a":31.0,"i":5.4,"r":"1:1"},{"a":31.6,"i":4.9,"r":"1:1"},{"a":32.2,"i":4.6,"r":"1:1"},{"a":32.8,"i":4.4,"r":"1:1"},{"a":33.4,"i":4.5,"r":"1:1"},{"a":34.0,"i":4.2,"r":"1:1"},{"a":34.6,"i":4.8,"r":"1:1"},{"a":35.2,"i":4.6,"r":"1:1"},{"a":35.8,"i":5.0,"r":"1:1"},{"a":36.2,"i":5.4,"r":"1:1"},{"a":36.8,"i":4.9,"r":"1:1"},{"a":37.4,"i":4.6,"r":"1:1"},{"a":38.0,"i":4.8,"r":"1:1"},{"a":38.6,"i":3.8,"r":"1:1"},{"a":39.2,"i":3.5,"r":"1:1"},{"a":39.8,"i":3.3,"r":"1:1"}
],
"bandE": [{"x1":7.5,"x2":20.5}],
"guideE": [{"x1":10.52,"y1":97,"x2":10.18,"y2":4.5},{"x1":17.91,"y1":97,"x2":17.63,"y2":4.5}],
"arrowE": [{"x1":7.79,"y1":79.8,"x2":10.23,"y2":84.1},{"x1":14.35,"y1":79.8,"x2":17.57,"y2":85.8},{"x1":7.73,"y1":66.2,"x2":10.03,"y2":70.1},{"x1":14.35,"y1":66.4,"x2":17.57,"y2":72.3}]
},
"spacing": 16,
"resolve": {"scale": {"color": "independent"}},
"vconcat": [
{
"resolve": {"scale": {"color": "independent"}},
"hconcat": [
{
 "width": 308, "height": 326,
 "layer": [
  {"layer": [
   {"data": {"name": "histA"}, "transform": [{"filter": "datum.s === 'Si@Cs-G'"}],
    "mark": {"type": "area", "color": "#ff0000", "interpolate": "step"},
    "encoding": {
     "x": {"field": "d", "type": "quantitative", "title": null, "scale": {"domain": [10, 250], "nice": false, "zero": false},
           "axis": {"values": [50,75,100,125,150,175,200,225,250], "labelExpr": "datum.value % 50 === 0 ? datum.label : ''", "labelOverlap": false, "tickSize": -4, "labelPadding": 12, "labelFontSize": 11}},
     "y": {"field": "i", "type": "quantitative", "title": null, "stack": null, "scale": {"domain": [0, 27.3], "nice": false},
           "axis": {"values": [0, 6.5, 13, 19.5, 26], "format": ".1f", "ticks": false, "labelOverlap": false, "labelPadding": 0.5, "labelFontSize": 11}}}},
   {"data": {"name": "histA"}, "transform": [{"filter": "datum.s === 'Cs'"}],
    "mark": {"type": "area", "color": "#0000ff", "interpolate": "step"},
    "encoding": {"x": {"field": "d", "type": "quantitative", "title": null}, "y": {"field": "i", "type": "quantitative", "title": null, "stack": null}}},
   {"data": {"name": "dashA"}, "mark": {"type": "rule", "strokeDash": [5, 3], "color": "#000000", "strokeWidth": 1.2},
    "encoding": {"x": {"field": "x", "type": "quantitative", "title": null}, "y": {"field": "y1", "type": "quantitative", "title": null}, "y2": {"field": "y2"}}},
   {"data": {"name": "dashA"}, "mark": {"type": "point", "shape": "triangle-down", "filled": true, "color": "#000000", "size": 28, "opacity": 1},
    "encoding": {"x": {"field": "x", "type": "quantitative", "title": null}, "y": {"field": "y1", "type": "quantitative", "title": null}}},
   {"data": {"values": [{}]}, "mark": {"type": "text", "align": "left", "baseline": "middle", "fontSize": 11, "color": "#111111"},
    "encoding": {"x": {"datum": 15.2}, "y": {"datum": 25.9}, "text": {"value": "Diameter (nm)"}}},
   {"data": {"values": [{}]}, "mark": {"type": "text", "align": "center", "baseline": "middle", "fontSize": 11, "angle": 270, "color": "#111111"},
    "encoding": {"x": {"datum": 18.8}, "y": {"datum": 20.5}, "text": {"value": "Intensity (%)"}}},
   {"data": {"values": [{}]}, "mark": {"type": "text", "align": "center", "baseline": "middle", "fontSize": 18, "fontWeight": "bold", "color": "#000000"},
    "encoding": {"x": {"datum": 145.9}, "y": {"datum": 25.9}, "text": {"value": "(A)"}}},
   {"data": {"values": [{}]}, "mark": {"type": "text", "align": "left", "baseline": "middle", "fontSize": 12, "color": "#ff0000"},
    "encoding": {"x": {"datum": 132.1}, "y": {"datum": 23.8}, "text": {"value": "Si@Cs-G"}}},
   {"data": {"values": [{}]}, "mark": {"type": "text", "align": "left", "baseline": "middle", "fontSize": 12, "color": "#ff0000"},
    "encoding": {"x": {"datum": 132.1}, "y": {"datum": 22.3}, "text": {"value": "187.83 nm"}}},
   {"data": {"values": [{}]}, "mark": {"type": "text", "align": "left", "baseline": "middle", "fontSize": 12, "color": "#0000ff"},
    "encoding": {"x": {"datum": 62.1}, "y": {"datum": 20.5}, "text": {"value": "Cs"}}},
   {"data": {"values": [{}]}, "mark": {"type": "text", "align": "left", "baseline": "middle", "fontSize": 12, "color": "#0000ff"},
    "encoding": {"x": {"datum": 62.1}, "y": {"datum": 18.9}, "text": {"value": "54.87 nm"}}}
  ]},
  {"data": {"name": "dashA"}, "mark": {"type": "point", "opacity": 0},
   "encoding": {"x": {"field": "x", "type": "quantitative", "title": null}, "y": {"field": "y2", "type": "quantitative", "title": null,
     "axis": {"orient": "right", "values": [0.08, 2.32, 4.55, 6.79, 9.02, 11.26, 13.49, 15.73, 17.96, 20.2, 22.43, 24.66], "labels": false, "tickSize": -5}}}}
 ],
 "resolve": {"axis": {"y": "independent"}}
},
{
"resolve": {"scale": {"color": "independent"}},
"hconcat": [
{
 "width": 329, "height": 321,
 "layer": [
  {"data": {"name": "isoB"}, "mark": {"type": "line", "strokeWidth": 1},
   "encoding": {
    "x": {"field": "p", "type": "quantitative", "title": null, "scale": {"domain": [0, 1], "nice": false},
          "axis": {"values": [0,0.1,0.2,0.3,0.4,0.5,0.6,0.7,0.8,0.9,1.0], "labelExpr": "round(datum.value*10) % 2 === 0 ? format(datum.value, '.1f') : ''", "labelOverlap": false, "tickSize": -4, "labelPadding": 15, "labelFontSize": 13}},
    "y": {"field": "q", "type": "quantitative", "title": null, "scale": {"domain": [0, 100], "nice": false},
          "axis": {"values": [6.6,13.3,20,26.7,33.3,40,46.7,53.3,60,66.7,73.3,80,86.7,93.3], "labels": false, "tickSize": -4}},
    "color": {"field": "s", "type": "nominal", "scale": {"domain": ["Si@Cs-G", "Cs"], "range": ["#ff2a2a", "#2a2aff"]}, "legend": null},
    "detail": {"field": "b"}}},
  {"data": {"values": [{}]}, "mark": {"type": "text", "align": "left", "baseline": "middle", "fontSize": 13, "color": "#111111"},
   "encoding": {"x": {"datum": 0.004}, "y": {"datum": 94.3}, "text": {"value": "RP (P/P₀)"}}},
  {"data": {"values": [{}]}, "mark": {"type": "text", "align": "center", "baseline": "middle", "fontSize": 18, "fontWeight": "bold", "color": "#000000"},
   "encoding": {"x": {"datum": 0.61}, "y": {"datum": 94.3}, "text": {"value": "(B)"}}},
  {"data": {"values": [{}]}, "mark": {"type": "text", "align": "center", "baseline": "middle", "fontSize": 14, "angle": 270, "color": "#111111"},
   "encoding": {"x": {"datum": 0.044}, "y": {"datum": 38.7}, "text": {"value": "QA (Cm² g⁻¹) STP"}}}
 ]
},
{
 "width": 276, "height": 321,
 "layer": [
  {"data": {"name": "poreC"}, "mark": {"type": "line", "strokeWidth": 1},
   "encoding": {
    "x": {"field": "d", "type": "quantitative", "title": null, "scale": {"domain": [1, 15], "nice": false, "zero": false},
          "axis": {"values": [1,2,3,4,5,6,7,8,9,10,11,12,13,14,15], "format": "d", "labelOverlap": false, "tickSize": 5, "labelPadding": 7, "labelFontSize": 11.5}},
    "y": {"field": "v", "type": "quantitative", "title": null, "scale": {"domain": [0, 0.3], "nice": false},
          "axis": {"values": [0,0.025,0.05,0.075,0.1,0.125,0.15,0.175,0.2,0.225,0.25,0.275,0.3],
                   "labelExpr": "round(datum.value*1000) % 50 === 0 ? format(datum.value, '.2f') : ''", "labelOverlap": false, "tickSize": {"condition": {"test": "round(datum.value*1000) % 50 === 0", "value": 5}, "value": 3}, "labelPadding": 2, "labelFontSize": 11.5}},
    "color": {"field": "s", "type": "nominal", "scale": {"domain": ["Si@Cs-G", "Cs"], "range": ["#e81010", "#1515d8"]}, "legend": null}}},
  {"data": {"name": "poreC"}, "mark": {"type": "point", "filled": false, "size": 48, "strokeWidth": 1.3, "opacity": 1},
   "encoding": {
    "x": {"field": "d", "type": "quantitative", "title": null},
    "y": {"field": "v", "type": "quantitative", "title": null},
    "color": {"field": "s", "type": "nominal", "legend": null}}},
  {"data": {"values": [{}]}, "mark": {"type": "text", "align": "center", "baseline": "middle", "fontSize": 18, "fontWeight": "bold", "color": "#000000"},
   "encoding": {"x": {"datum": 7.6}, "y": {"datum": 0.287}, "text": {"value": "(C)"}}},
  {"data": {"values": [{}]}, "mark": {"type": "text", "align": "center", "baseline": "middle", "fontSize": 12, "color": "#111111"},
   "encoding": {"x": {"datum": 12.74}, "y": {"datum": 0.285}, "text": {"value": "PD (nm)"}}},
  {"data": {"values": [{}]}, "mark": {"type": "text", "align": "center", "baseline": "middle", "fontSize": 12, "angle": 270, "color": "#111111"},
   "encoding": {"x": {"datum": 14.33}, "y": {"datum": 0.22}, "text": {"value": "PV (Cm³ g⁻¹)"}}}
 ]
}
],
"spacing": 8
}
],
"spacing": -3
},
{
"resolve": {"scale": {"color": "independent"}},
"hconcat": [
 {"width": 35, "height": 20, "data": {"values": []}, "mark": "point", "view": {"stroke": null}},
 {
 "resolve": {"scale": {"color": "independent"}},
 "hconcat": [
 {
  "width": 418, "height": 367,
  "layer": [
   {"data": {"name": "ftirD"}, "mark": {"type": "line", "strokeWidth": 1.2},
    "encoding": {
     "x": {"field": "w", "type": "quantitative", "title": null, "scale": {"domain": [500, 4000], "reverse": true, "nice": false, "zero": false},
           "axis": {"values": [500,750,1000,1250,1500,1750,2000,2250,2500,2750,3000,3250,3500,3750,4000], "labelExpr": "datum.value % 500 === 0 ? datum.label : ''", "format": "d", "labelOverlap": false,
                    "tickSize": {"condition": {"test": "datum.value % 500 === 0", "value": 5}, "value": 3}, "labelPadding": 3, "labelFontSize": 12.5}},
     "y": {"field": "t", "type": "quantitative", "title": null, "scale": {"domain": [0, 100], "nice": false},
           "axis": {"orient": "right", "values": [5.5, 17.3, 29.1, 40.9, 52.7, 64.5, 76.4, 88.2], "labels": false, "tickSize": -5}},
     "color": {"field": "s", "type": "nominal", "scale": {"domain": ["Si@Cs-G", "Cs"], "range": ["#ee1111", "#1111dd"]}, "legend": null}}},
   {"data": {"name": "peaksD"}, "mark": {"type": "text", "angle": 270, "fontSize": 11, "align": "center", "baseline": "middle", "color": "#111111"},
    "encoding": {"x": {"field": "x", "type": "quantitative", "title": null}, "y": {"field": "y", "type": "quantitative", "title": null}, "text": {"field": "t"}}},
   {"data": {"values": [{}]}, "mark": {"type": "text", "align": "center", "baseline": "middle", "fontSize": 18, "fontWeight": "bold", "color": "#000000"},
    "encoding": {"x": {"datum": 2064}, "y": {"datum": 94.1}, "text": {"value": "(D)"}}},
   {"data": {"values": [{}]}, "mark": {"type": "text", "align": "center", "baseline": "middle", "fontSize": 15, "color": "#1111dd"},
    "encoding": {"x": {"datum": 903}, "y": {"datum": 95.5}, "text": {"value": "Cs"}}},
   {"data": {"values": [{}]}, "mark": {"type": "text", "align": "center", "baseline": "middle", "fontSize": 15, "color": "#ee1111"},
    "encoding": {"x": {"datum": 883}, "y": {"datum": 61.5}, "text": {"value": "Si@Cs-G"}}},
   {"data": {"values": [{}]}, "mark": {"type": "text", "align": "center", "baseline": "middle", "fontSize": 15, "angle": 270, "color": "#111111"},
    "encoding": {"x": {"datum": 3922}, "y": {"datum": 23.2}, "text": {"value": "Transmittance (%)"}}},
   {"data": {"values": [{}]}, "mark": {"type": "text", "align": "left", "baseline": "middle", "fontSize": 15, "color": "#111111"},
    "encoding": {"x": {"datum": 3816}, "y": {"datum": 3.2}, "text": {"value": "Wavenumber (Cm⁻¹)"}}}
  ]
 },
 {
  "resolve": {"scale": {"color": "independent"}},
  "vconcat": [
   {"width": 405, "height": 1.5, "data": {"values": []}, "mark": "point", "view": {"stroke": null}},
   {
    "width": 405, "height": 357,
    "layer": [
     {"data": {"name": "bandE"}, "mark": {"type": "rect", "color": "#ccfcfc", "stroke": "#9ab8b8", "strokeWidth": 0.8, "strokeDash": [1, 2], "opacity": 1},
      "encoding": {
       "x": {"field": "x1", "type": "quantitative", "title": null, "scale": {"domain": [5, 40], "nice": false, "zero": false},
             "axis": {"values": [5,7.5,10,12.5,15,17.5,20,22.5,25,27.5,30,32.5,35,37.5,40], "labelExpr": "datum.value % 5 === 0 ? datum.label : ''", "labelOverlap": false,
                      "tickSize": {"condition": {"test": "datum.value % 5 === 0", "value": 5}, "value": 3}, "labelPadding": 4, "labelFontSize": 13}},
       "x2": {"field": "x2"}}},
     {"data": {"name": "xrdE"}, "mark": {"type": "line", "strokeWidth": 1.1},
      "encoding": {
       "x": {"field": "a", "type": "quantitative", "title": null},
       "y": {"field": "i", "type": "quantitative", "title": null, "scale": {"domain": [0, 100], "nice": false},
             "axis": {"values": [0,10,20,30,40,50,60,70,80,90,100], "labelExpr": "datum.value % 20 === 0 ? datum.label : ''", "labelOverlap": false,
                      "tickSize": {"condition": {"test": "datum.value % 20 === 0", "value": 5}, "value": 3}, "labelPadding": 2, "labelFontSize": 13}},
       "color": {"field": "r", "type": "nominal", "scale": {"domain": ["1:1", "1:2", "1:3", "1:4", "1:5"], "range": ["#a374d6", "#2a9d68", "#1f6ccf", "#e03a3e", "#454545"]}, "legend": null}}},
     {"data": {"name": "guideE"}, "mark": {"type": "rule", "strokeDash": [7, 5], "strokeWidth": 2, "color": "#203c3c"},
      "encoding": {"x": {"field": "x1", "type": "quantitative", "title": null}, "y": {"field": "y1", "type": "quantitative", "title": null}, "x2": {"field": "x2"}, "y2": {"field": "y2"}}},
     {"data": {"name": "guideE"}, "mark": {"type": "point", "shape": "M-0.45,-1L0.45,-1L0.45,1L-0.45,1Z", "filled": true, "size": 60, "color": "#203c3c", "opacity": 1},
      "encoding": {"x": {"field": "x1", "type": "quantitative", "title": null}, "y": {"field": "y1", "type": "quantitative", "title": null}}},
     {"data": {"name": "guideE"}, "mark": {"type": "point", "shape": "triangle-down", "filled": true, "size": 40, "color": "#203c3c", "opacity": 1},
      "encoding": {"x": {"field": "x2", "type": "quantitative", "title": null}, "y": {"field": "y2", "type": "quantitative", "title": null}}},
     {"data": {"name": "arrowE"}, "mark": {"type": "rule", "strokeWidth": 1.5, "color": "#e02020"},
      "encoding": {"x": {"field": "x1", "type": "quantitative", "title": null}, "y": {"field": "y1", "type": "quantitative", "title": null}, "x2": {"field": "x2"}, "y2": {"field": "y2"}}},
     {"data": {"name": "arrowE"}, "mark": {"type": "point", "shape": "triangle-right", "angle": -29, "filled": true, "size": 35, "color": "#e02020", "opacity": 1},
      "encoding": {"x": {"field": "x2", "type": "quantitative", "title": null}, "y": {"field": "y2", "type": "quantitative", "title": null}}},
     {"data": {"values": [{}]}, "mark": {"type": "text", "align": "center", "baseline": "middle", "fontSize": 15, "color": "#111111"},
      "encoding": {"x": {"datum": 6.24}, "y": {"datum": 92.4}, "text": {"value": "1:5"}}},
     {"data": {"values": [{}]}, "mark": {"type": "text", "align": "center", "baseline": "middle", "fontSize": 15, "color": "#111111"},
      "encoding": {"x": {"datum": 6.24}, "y": {"datum": 76.5}, "text": {"value": "1:4"}}},
     {"data": {"values": [{}]}, "mark": {"type": "text", "align": "center", "baseline": "middle", "fontSize": 15, "color": "#111111"},
      "encoding": {"x": {"datum": 6.2}, "y": {"datum": 37.8}, "text": {"value": "1:3"}}},
     {"data": {"values": [{}]}, "mark": {"type": "text", "align": "center", "baseline": "middle", "fontSize": 15, "color": "#111111"},
      "encoding": {"x": {"datum": 6.06}, "y": {"datum": 24.3}, "text": {"value": "1:2"}}},
     {"data": {"values": [{}]}, "mark": {"type": "text", "align": "center", "baseline": "middle", "fontSize": 15, "color": "#111111"},
      "encoding": {"x": {"datum": 6.06}, "y": {"datum": 14.0}, "text": {"value": "1:1"}}},
     {"data": {"values": [{}]}, "mark": {"type": "text", "align": "center", "baseline": "middle", "fontSize": 18, "fontWeight": "bold", "color": "#000000"},
      "encoding": {"x": {"datum": 25.25}, "y": {"datum": 94.5}, "text": {"value": "(E)"}}},
     {"data": {"values": [{}]}, "mark": {"type": "text", "align": "center", "baseline": "middle", "fontSize": 14, "color": "#111111"},
      "encoding": {"x": {"datum": 34.4}, "y": {"datum": 96.5}, "text": {"value": "2 Teta (°)"}}},
     {"data": {"values": [{}]}, "mark": {"type": "text", "align": "center", "baseline": "middle", "fontSize": 12.5, "angle": 270, "color": "#111111"},
      "encoding": {"x": {"datum": 39.22}, "y": {"datum": 90.0}, "text": {"value": "Int (a.u.)"}}}
    ]
   }
  ],
  "spacing": 0
 }
 ],
 "spacing": 4
 }
],
"spacing": 0
}
]
}
